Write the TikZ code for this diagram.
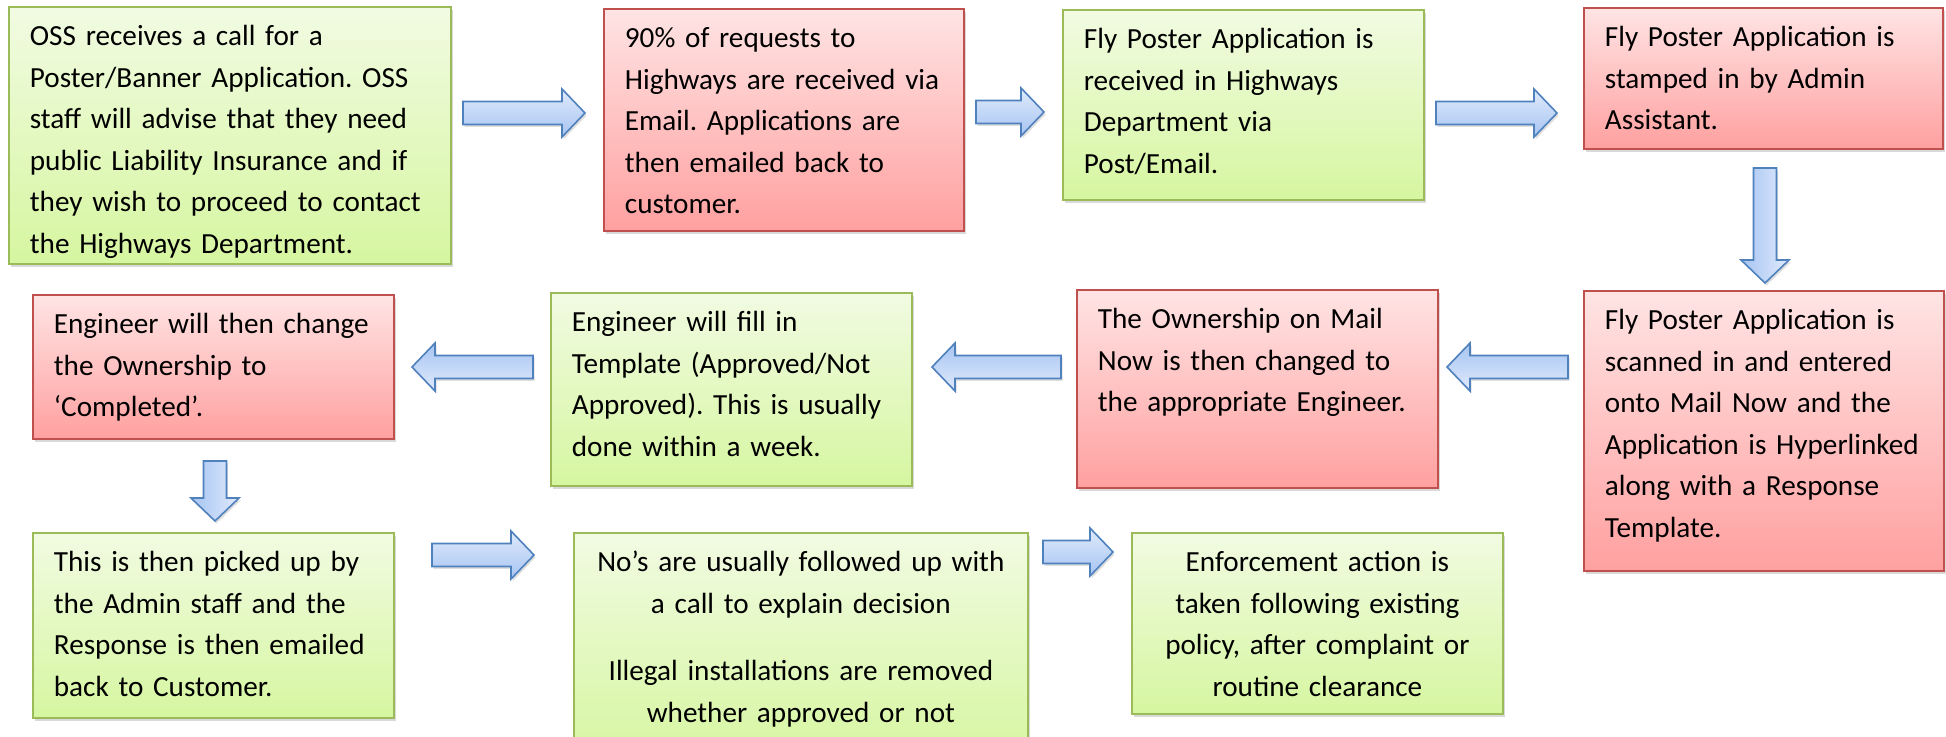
\documentclass[tikz,border=0pt]{standalone}
\usepackage{fontspec}
\setmainfont{Carlito}
\usetikzlibrary{calc, shadows}
\frenchspacing

\definecolor{greentop}{RGB}{241,251,226}
\definecolor{greenbot}{RGB}{214,246,160}
\definecolor{greenline}{RGB}{155,187,89}
\definecolor{redtop}{RGB}{255,228,228}
\definecolor{redbot}{RGB}{255,160,160}
\definecolor{redline}{RGB}{192,80,77}
\definecolor{arrowlight}{RGB}{224,234,252}
\definecolor{arrowdark}{RGB}{166,196,242}
\definecolor{arrowline}{RGB}{79,129,189}

\tikzset{
  box/.style={rectangle, anchor=north west, line width=0.9pt, align=left,
    inner xsep=10.5pt, inner ysep=8pt, text height=11.5pt,
    font=\fontsize{14.6pt}{20.75pt}\selectfont,
    drop shadow={shadow xshift=1.2pt, shadow yshift=-1.6pt, opacity=0.3}},
  greenbox/.style={box, draw=greenline, top color=greentop, bottom color=greenbot},
  redbox/.style={box, draw=redline, top color=redtop, bottom color=redbot},
  blockarrow/.style={draw=arrowline, line width=0.8pt,
    drop shadow={shadow xshift=0.8pt, shadow yshift=-1.2pt, opacity=0.25},
    to path={
      ($(\tikztostart)!5.75pt!90:(\tikztotarget)$)
      -- ($(\tikztotarget)!11.5pt!(\tikztostart)!5.75pt!90:(\tikztotarget)$)
      -- ($(\tikztotarget)!11.5pt!(\tikztostart)!12pt!90:(\tikztotarget)$)
      -- (\tikztotarget)
      -- ($(\tikztotarget)!11.5pt!(\tikztostart)!12pt!-90:(\tikztotarget)$)
      -- ($(\tikztotarget)!11.5pt!(\tikztostart)!5.75pt!-90:(\tikztotarget)$)
      -- ($(\tikztostart)!5.75pt!-90:(\tikztotarget)$)
      -- cycle}},
  arrowR/.style={blockarrow, top color=arrowlight, bottom color=arrowdark},
  arrowL/.style={blockarrow, top color=arrowdark, bottom color=arrowlight},
  arrowD/.style={blockarrow, left color=arrowdark, right color=arrowlight}
}

\begin{document}
\begin{tikzpicture}[x=0.5pt, y=-0.5pt]
    \useasboundingbox (0,0) rectangle (1946,736);

    \node[greenbox, text width=200pt, text depth=101pt] (oss) at (8,6)
        {OSS receives a call for a\\Poster/Banner Application. OSS\\staff will advise that they need\\public Liability Insurance and if\\they wish to proceed to contact\\the Highways Department.};
    \node[redbox, text width=159pt, text depth=83.5pt] (emailreq) at (603,8)
        {90\% of requests to\\Highways are received via\\Email. Applications are\\then emailed back to\\customer.};
    \node[greenbox, text width=159.5pt, text depth=67.5pt] (received) at (1062,9)
        {Fly Poster Application is\\received in Highways\\Department via\\Post/Email.};
    \node[redbox, text width=158.5pt, text depth=43pt] (stamped) at (1583,7)
        {Fly Poster Application is\\stamped in by Admin\\Assistant.};

    \node[redbox, text width=159pt, text depth=112.5pt] (scanned) at (1583,290)
        {Fly Poster Application is\\scanned in and entered\\onto Mail Now and the\\Application is Hyperlinked\\along with a Response\\Template.};
    \node[redbox, text width=159.5pt, text depth=71.5pt] (ownership) at (1076,289)
        {The Ownership on Mail\\Now is then changed to\\the appropriate Engineer.};
    \node[greenbox, text width=159.5pt, text depth=69pt] (template) at (550,292)
        {Engineer will fill in\\Template (Approved/Not\\Approved). This is usually\\done within a week.};
    \node[redbox, text width=159.5pt, text depth=44.5pt] (completed) at (32,294)
        {Engineer will then change\\the Ownership to\\‘Completed’.};

    \node[greenbox, text width=159.5pt, text depth=65pt] (pickedup) at (32,532)
        {This is then picked up by\\the Admin staff and the\\Response is then emailed\\back to Customer.};
    \node[greenbox, align=center, text width=206pt, text depth=87.5pt] (followup) at (573,532)
        {No’s are usually followed up with\\a call to explain decision\\[13pt]Illegal installations are removed\\whether approved or not};
    \node[greenbox, align=center, text width=164.5pt, text depth=63pt] (enforce) at (1131,532)
        {Enforcement action is\\taken following existing\\policy, after complaint or\\routine clearance};

    \coordinate (s1) at (463,113);  \coordinate (e1) at (585,113);
    \coordinate (s2) at (976,112);  \coordinate (e2) at (1044,112);
    \coordinate (s3) at (1436,113); \coordinate (e3) at (1557,113);
    \coordinate (s4) at (1765,168); \coordinate (e4) at (1765,283);
    \coordinate (s5) at (1568,367); \coordinate (e5) at (1447,367);
    \coordinate (s6) at (1061,367); \coordinate (e6) at (932,367);
    \coordinate (s7) at (533,367);  \coordinate (e7) at (412,367);
    \coordinate (s8) at (215,461);  \coordinate (e8) at (215,521);
    \coordinate (s9) at (432,555);  \coordinate (e9) at (534,555);
    \coordinate (s10) at (1043,552); \coordinate (e10) at (1113,552);

    \draw[arrowR] (s1) to (e1);
    \draw[arrowR] (s2) to (e2);
    \draw[arrowR] (s3) to (e3);
    \draw[arrowD] (s4) to (e4);
    \draw[arrowL] (s5) to (e5);
    \draw[arrowL] (s6) to (e6);
    \draw[arrowL] (s7) to (e7);
    \draw[arrowD] (s8) to (e8);
    \draw[arrowR] (s9) to (e9);
    \draw[arrowR] (s10) to (e10);
\end{tikzpicture}
\end{document}
